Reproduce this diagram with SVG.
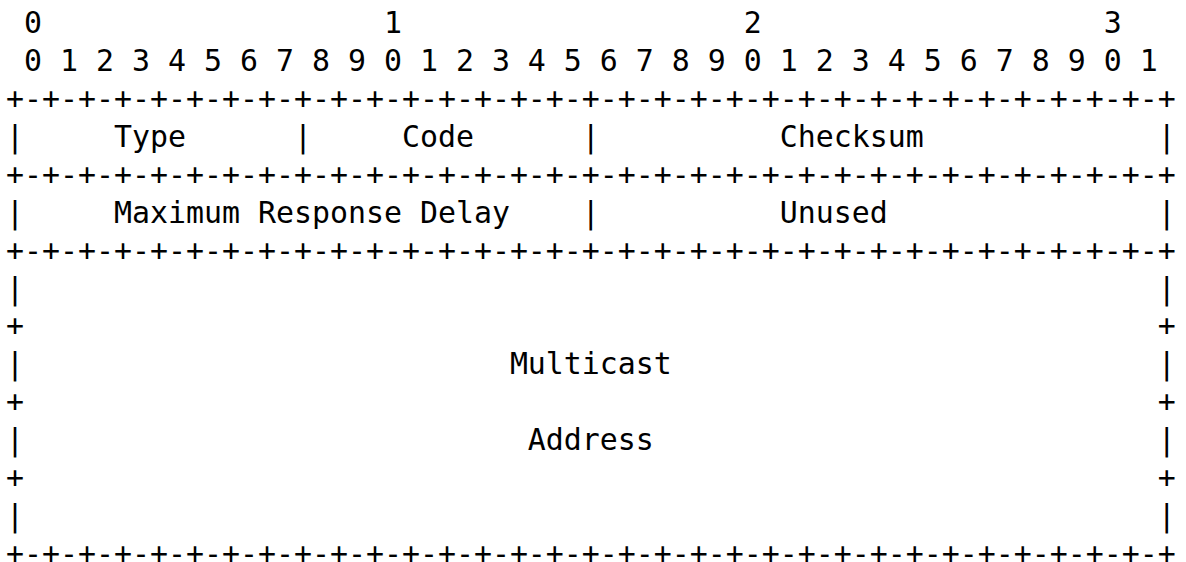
<svg xmlns="http://www.w3.org/2000/svg" width="1186" height="562" viewBox="0 0 1186 562">
<style>
text{font-family:"DejaVu Sans Mono","Liberation Mono",monospace;font-size:29.9px;fill:#000;white-space:pre}
</style>
<rect width="1186" height="562" fill="#fff"/>
<g id="ruler">
<text x="6" y="33" xml:space="preserve"> 0                   1                   2                   3</text>
<text x="6" y="70.9" xml:space="preserve"> 0 1 2 3 4 5 6 7 8 9 0 1 2 3 4 5 6 7 8 9 0 1 2 3 4 5 6 7 8 9 0 1</text>
</g>
<g id="borders">
<text x="6" y="108.9" xml:space="preserve">+-+-+-+-+-+-+-+-+-+-+-+-+-+-+-+-+-+-+-+-+-+-+-+-+-+-+-+-+-+-+-+-+</text>
<text x="6" y="184.7" xml:space="preserve">+-+-+-+-+-+-+-+-+-+-+-+-+-+-+-+-+-+-+-+-+-+-+-+-+-+-+-+-+-+-+-+-+</text>
<text x="6" y="260.6" xml:space="preserve">+-+-+-+-+-+-+-+-+-+-+-+-+-+-+-+-+-+-+-+-+-+-+-+-+-+-+-+-+-+-+-+-+</text>
<text x="6" y="564" xml:space="preserve">+-+-+-+-+-+-+-+-+-+-+-+-+-+-+-+-+-+-+-+-+-+-+-+-+-+-+-+-+-+-+-+-+</text>
</g>
<g id="row-type-code-checksum">
<text x="6" y="146.8" xml:space="preserve">|     Type      |     Code      |          Checksum             |</text>
</g>
<g id="row-delay-unused">
<text x="6" y="222.7" xml:space="preserve">|     Maximum Response Delay    |          Unused               |</text>
</g>
<g id="row-multicast-address">
<text x="6" y="298.5" xml:space="preserve">|                                                               |</text>
<text x="6" y="336.4" xml:space="preserve">+                                                               +</text>
<text x="6" y="374.4" xml:space="preserve">|                           Multicast                           |</text>
<text x="6" y="412.3" xml:space="preserve">+                                                               +</text>
<text x="6" y="450.2" xml:space="preserve">|                            Address                            |</text>
<text x="6" y="488.2" xml:space="preserve">+                                                               +</text>
<text x="6" y="526.1" xml:space="preserve">|                                                               |</text>
</g>
</svg>
